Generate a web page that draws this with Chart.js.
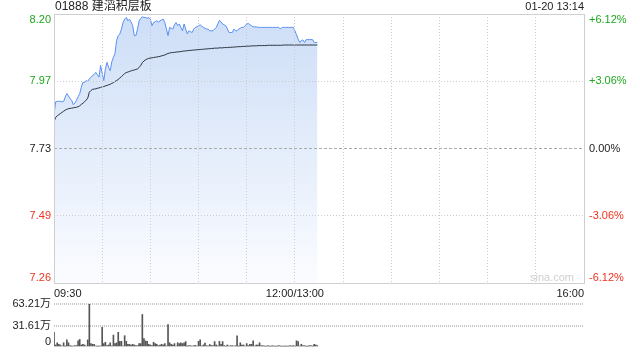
<!DOCTYPE html>
<html>
<head>
<meta charset="utf-8">
<script src="https://cdn.jsdelivr.net/npm/chart.js@4.4.1/dist/chart.umd.min.js"></script>
<style>
  html, body { margin: 0; padding: 0; background: #fff; }
  #wrap { position: relative; width: 640px; height: 360px; }
  #wrap canvas { position: absolute; left: 0; top: 0; }
</style>
</head>
<body>
<div id="wrap">
  <canvas id="priceChart" width="640" height="360"></canvas>
  <canvas id="volChart" width="640" height="360"></canvas>
</div>
<script>
// 01888 建滔积层板, 01-20 intraday up to 13:14 (minute 0 = 09:30, 150 = 12:00/13:00, 330 = 16:00)
const title = '01888 建滔积层板';
const stamp = '01-20 13:14';
const preClose = 7.73;
const pctRange = 6.12;
const priceLabels = ['8.20', '7.97', '7.73', '7.49', '7.26'];
const pctLabels = ['+6.12%', '+3.06%', '0.00%', '-3.06%', '-6.12%'];
const timeLabels = ['09:30', '12:00/13:00', '16:00'];
const timeTicks = [0, 150, 330];
const volMax = 63.21;
const volLabels = ['63.21万', '31.61万', '0'];

// price per minute
const price = [
  7.847, 7.894, 7.896, 7.896, 7.896, 7.894, 7.896, 7.911, 7.923, 7.915,
  7.905, 7.900, 7.884, 7.890, 7.900, 7.912, 7.923, 7.945, 7.963, 7.962,
  7.969, 7.966, 7.975, 7.980, 7.987, 7.990, 7.998, 7.990, 7.981, 8.022,
  7.995, 7.969, 8.010, 8.033, 8.015, 8.004, 8.035, 8.051, 8.065, 8.110,
  8.127, 8.133, 8.150, 8.173, 8.185, 8.191, 8.179, 8.185, 8.175, 8.162,
  8.127, 8.127, 8.150, 8.179, 8.188, 8.193, 8.191, 8.191, 8.188, 8.191,
  8.185, 8.162, 8.173, 8.176, 8.179, 8.175, 8.179, 8.182, 8.185, 8.173,
  8.150, 8.127, 8.156, 8.153, 8.150, 8.165, 8.173, 8.162, 8.168, 8.156,
  8.144, 8.168, 8.150, 8.133, 8.144, 8.141, 8.138, 8.150, 8.156, 8.158,
  8.162, 8.165, 8.160, 8.156, 8.153, 8.150, 8.150, 8.144, 8.144, 8.144,
  8.150, 8.156, 8.168, 8.181, 8.175, 8.168, 8.165, 8.162, 8.150, 8.138,
  8.138, 8.138, 8.150, 8.144, 8.144, 8.150, 8.153, 8.156, 8.156, 8.162,
  8.168, 8.170, 8.165, 8.162, 8.158, 8.158, 8.158, 8.156, 8.156, 8.156,
  8.156, 8.156, 8.156, 8.156, 8.156, 8.156, 8.156, 8.156, 8.156, 8.156,
  8.156, 8.150, 8.156, 8.156, 8.156, 8.156, 8.156, 8.156, 8.156, 8.156,
  8.144, 8.130, 8.115, 8.103, 8.110, 8.112, 8.103, 8.113, 8.113, 8.113,
  8.113, 8.113, 8.103, 8.103, 8.103
];

// average price per minute
const avgPrice = [
  7.824, 7.839, 7.845, 7.849, 7.853, 7.857, 7.861, 7.865, 7.868, 7.870,
  7.871, 7.872, 7.873, 7.874, 7.875, 7.877, 7.880, 7.885, 7.889, 7.894,
  7.900, 7.907, 7.928, 7.934, 7.938, 7.939, 7.940, 7.942, 7.943, 7.945,
  7.947, 7.948, 7.950, 7.952, 7.954, 7.956, 7.959, 7.962, 7.966, 7.969,
  7.973, 7.978, 7.983, 7.988, 7.994, 7.997, 7.999, 8.001, 8.003, 8.005,
  8.006, 8.008, 8.010, 8.015, 8.022, 8.032, 8.038, 8.042, 8.045, 8.047,
  8.048, 8.049, 8.050, 8.051, 8.052, 8.053, 8.054, 8.056, 8.057, 8.059,
  8.062, 8.064, 8.066, 8.067, 8.068, 8.068, 8.069, 8.070, 8.070, 8.071,
  8.072, 8.073, 8.073, 8.074, 8.075, 8.075, 8.076, 8.076, 8.077, 8.077,
  8.078, 8.078, 8.079, 8.079, 8.080, 8.080, 8.081, 8.081, 8.082, 8.082,
  8.083, 8.083, 8.083, 8.084, 8.084, 8.084, 8.085, 8.085, 8.085, 8.086,
  8.086, 8.086, 8.087, 8.087, 8.088, 8.088, 8.088, 8.089, 8.089, 8.089,
  8.090, 8.090, 8.090, 8.091, 8.091, 8.091, 8.091, 8.092, 8.092, 8.092,
  8.092, 8.092, 8.092, 8.093, 8.093, 8.093, 8.093, 8.093, 8.093, 8.093,
  8.093, 8.093, 8.093, 8.094, 8.094, 8.094, 8.094, 8.094, 8.094, 8.094,
  8.094, 8.094, 8.094, 8.094, 8.094, 8.094, 8.094, 8.094, 8.094, 8.094,
  8.094, 8.094, 8.094, 8.094, 8.094
];

// volume per minute, in 万 shares
const volume = [
  21.6, 3, 6.2, 4, 2.9, 1.5, 6.2, 1.2, 10.4, 6.2,
  2, 1.2, 1.5, 2, 2, 9, 11.2, 3, 4, 3,
  1.5, 10.4, 63.21, 5, 4, 4, 1.5, 1.2, 1.2, 1.5,
  29, 5, 7, 2, 3, 6.2, 1.5, 17.5, 5, 6.2,
  21.6, 8.3, 8.3, 1.5, 16.6, 8.3, 4, 4, 3, 4,
  3, 2, 2, 5, 5, 47.8, 12.5, 9, 8.3, 4,
  3, 2, 7, 5, 4, 2, 3, 4, 3, 5,
  1.5, 32.8, 6.2, 4, 3, 5, 1.5, 6.2, 5, 6.2,
  5, 6.2, 7.9, 1.2, 2, 2, 1.5, 2, 2.5, 1.5,
  8.3, 10.4, 1.5, 3, 5.8, 2, 1.5, 3.7, 2.1, 2,
  8, 3, 1.5, 8.3, 4, 7.9, 2, 1.2, 3, 1.5,
  2, 2, 1.5, 2, 16.6, 1.2, 6.2, 3, 3, 1.5,
  5, 2, 4, 4, 9, 1.5, 3, 3, 6.2, 2,
  2, 1.2, 1.2, 2, 1.2, 1.2, 2, 1.2, 1.2, 1.2,
  2, 1.2, 1.2, 1.2, 1.2, 1.2, 1.2, 2, 1.2, 2,
  1.2, 9.1, 7.9, 1.5, 4, 2, 2, 1.2, 1.2, 2,
  2, 1.2, 4, 3, 2
];

const FONT = '"Liberation Sans", Arial, "Noto Sans CJK SC", sans-serif';
const GREEN = '#1ea81e';
const RED = '#f0321e';
const GRID = '#cccccc';

const priceMax = preClose * (1 + pctRange / 100);
const priceMin = preClose * (1 - pctRange / 100);

function labelColor(i) {
  if (i < 2) return GREEN;
  if (i > 2) return RED;
  return '#222';
}

// texts, frame and zero line for the price panel
const pricePanelPlugin = {
  id: 'pricePanel',
  afterDatasetsDraw(chart) {
    const { ctx, chartArea: a, scales } = chart;
    const y0 = Math.round(scales.y.getPixelForValue(preClose)) + 0.5;
    ctx.save();
    ctx.strokeStyle = '#aaa';
    ctx.lineWidth = 1;
    ctx.setLineDash([3, 2]);
    ctx.beginPath();
    ctx.moveTo(a.left, y0);
    ctx.lineTo(a.right, y0);
    ctx.stroke();
    ctx.restore();
  },
  afterDraw(chart) {
    const { ctx, chartArea: a, scales } = chart;
    ctx.save();
    ctx.strokeStyle = '#cfcfcf';
    ctx.lineWidth = 1;
    ctx.strokeRect(Math.round(a.left) + 0.5, Math.round(a.top) + 0.5,
      Math.round(a.right - a.left), Math.round(a.bottom - a.top));

    ctx.font = '12px ' + FONT;
    ctx.fillStyle = '#222';
    ctx.textBaseline = 'middle';
    ctx.textAlign = 'left';
    ctx.fillText(title, a.left + 1, 7);
    ctx.font = '11px ' + FONT;
    ctx.textAlign = 'right';
    ctx.fillText(stamp, a.right, 7);

    const n = priceLabels.length;
    priceLabels.forEach((t, i) => {
      const v = priceMax - (priceMax - priceMin) * i / (n - 1);
      let y = scales.y.getPixelForValue(v);
      if (i === 0) y += 6;
      if (i === n - 1) y -= 5;
      ctx.fillStyle = labelColor(i);
      ctx.textAlign = 'right';
      ctx.fillText(t, a.left - 3, y);
      ctx.textAlign = 'left';
      ctx.fillText(pctLabels[i], a.right + 5, y);
    });

    ctx.fillStyle = '#222';
    timeLabels.forEach((t, i) => {
      const x = scales.x.getPixelForValue(timeTicks[i]);
      ctx.textAlign = i === 0 ? 'left' : (i === timeLabels.length - 1 ? 'right' : 'center');
      ctx.fillText(t, x, a.bottom + 11);
    });

    ctx.fillStyle = '#cfcfcf';
    ctx.textAlign = 'right';
    ctx.font = '11px ' + FONT;
    ctx.fillText('sina.com', a.right - 10, a.bottom - 5);
    ctx.restore();
  }
};

const priceChart = new Chart(document.getElementById('priceChart').getContext('2d'), {
  type: 'line',
  data: {
    datasets: [
      {
        label: 'price',
        data: price.map((p, i) => ({ x: i, y: p })),
        borderColor: '#5a8ff2',
        borderWidth: 1,
        pointRadius: 0,
        tension: 0,
        fill: 'start',
        backgroundColor: function (context) {
          const a = context.chart.chartArea;
          if (!a) return 'rgba(207,223,247,0.8)';
          const g = context.chart.ctx.createLinearGradient(0, a.top, 0, a.bottom);
          g.addColorStop(0, '#cddef7');
          g.addColorStop(1, '#fbfcff');
          return g;
        },
        order: 2
      },
      {
        label: 'avg',
        data: avgPrice.map((p, i) => ({ x: i, y: p })),
        borderColor: '#2b3440',
        borderWidth: 1,
        pointRadius: 0,
        tension: 0,
        fill: false,
        order: 1
      }
    ]
  },
  options: {
    responsive: false,
    animation: false,
    devicePixelRatio: 1,
    layout: { padding: { left: 54, right: 56, top: 14, bottom: 77 } },
    plugins: { legend: { display: false }, tooltip: { enabled: false } },
    scales: {
      x: {
        type: 'linear',
        min: 0,
        max: 330,
        ticks: { display: false, stepSize: 30 },
        grid: { color: GRID, drawTicks: false, z: 1 },
        border: { display: false, dash: [1, 2] }
      },
      y: {
        min: priceMin,
        max: priceMax,
        afterBuildTicks: function (scale) {
          const n = priceLabels.length;
          scale.ticks = priceLabels.map((t, i) => ({ value: priceMax - (priceMax - priceMin) * i / (n - 1) }));
        },
        ticks: { display: false },
        grid: {
          color: ctx => (ctx.tick && Math.abs(ctx.tick.value - preClose) < 0.001 ? 'rgba(0,0,0,0)' : GRID),
          drawTicks: false,
          z: 1
        },
        border: { display: false, dash: [1, 2] }
      }
    }
  },
  plugins: [pricePanelPlugin]
});

const volPanelPlugin = {
  id: 'volPanel',
  afterDraw(chart) {
    const { ctx, chartArea: a, scales } = chart;
    ctx.save();
    ctx.font = '11px ' + FONT;
    ctx.fillStyle = '#222';
    ctx.textAlign = 'right';
    ctx.textBaseline = 'middle';
    const vals = [volMax, volMax / 2, 0];
    volLabels.forEach((t, i) => {
      let y = scales.y.getPixelForValue(vals[i]);
      if (i === volLabels.length - 1) y -= 5;
      ctx.fillText(t, a.left - 3, y);
    });
    ctx.restore();
  }
};

const volChart = new Chart(document.getElementById('volChart').getContext('2d'), {
  type: 'bar',
  data: {
    datasets: [{
      label: 'volume',
      data: volume.map((v, i) => ({ x: i, y: v })),
      backgroundColor: '#555',
      barThickness: 1,
      grouped: false
    }]
  },
  options: {
    responsive: false,
    animation: false,
    devicePixelRatio: 1,
    layout: { padding: { left: 54, right: 56, top: 304, bottom: 5 } },
    plugins: { legend: { display: false }, tooltip: { enabled: false } },
    scales: {
      x: {
        type: 'linear',
        min: 0,
        max: 330,
        offset: false,
        ticks: { display: false },
        grid: { display: false },
        border: { display: false }
      },
      y: {
        min: 0,
        max: volMax,
        afterBuildTicks: function (scale) {
          scale.ticks = [{ value: 0 }, { value: volMax / 2 }, { value: volMax }];
        },
        ticks: { display: false },
        grid: {
          color: ctx => (ctx.tick && ctx.tick.value === 0 ? 'rgba(0,0,0,0)' : '#c8c8c8'),
          lineWidth: 2,
          drawTicks: false
        },
        border: { display: false, dash: [1, 1] }
      }
    }
  },
  plugins: [volPanelPlugin]
});
</script>
</body>
</html>
